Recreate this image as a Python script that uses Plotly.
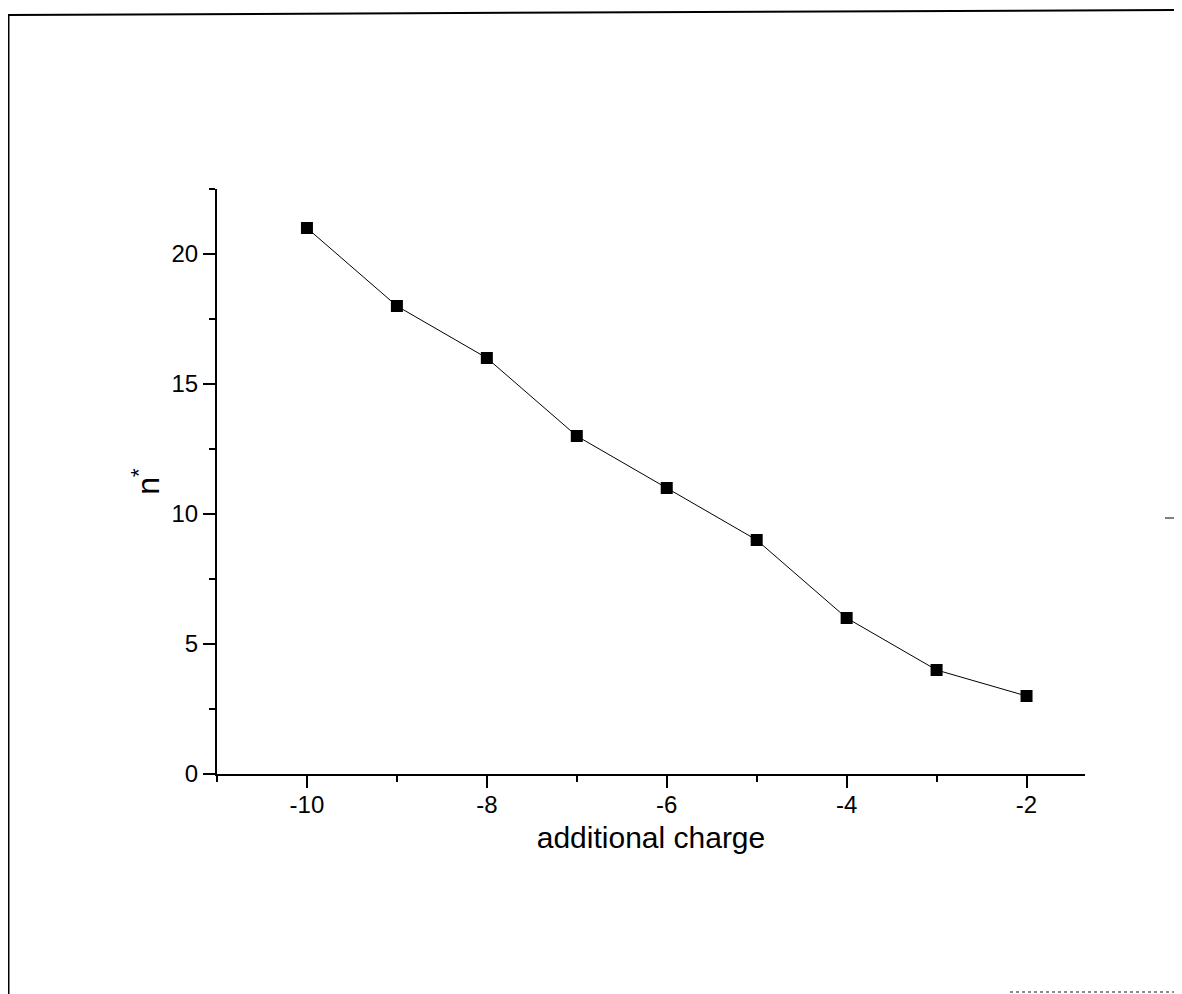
import plotly.graph_objects as go

# Data
charge = [-10, -9, -8, -7, -6, -5, -4, -3, -2]
n_star = [21, 18, 16, 13, 11, 9, 6, 4, 3]

x_ticks = [-10, -8, -6, -4, -2]
y_ticks = [0, 5, 10, 15, 20]

# page body margin in the browser is 8px, so figure coordinates = screen - 8
OFF = 8
W, H = 1182 - OFF, 994 - OFF
L, R, T, B = 217 - OFF, 1085 - OFF, 189 - OFF, 774 - OFF  # plot area bounds


def px(x):
    return (x - OFF - L) / (R - L)


def py(y):
    return (B - (y - OFF)) / (B - T)


fig = go.Figure()
fig.add_trace(go.Scatter(
    x=charge, y=n_star, mode="lines+markers",
    line=dict(color="black", width=1),
    marker=dict(symbol="square", size=12, color="black"),
    showlegend=False,
))

font_family = "Liberation Sans, Arial, sans-serif"

fig.update_layout(
    width=W, height=H, autosize=False,
    margin=dict(l=L, r=W - R, t=T, b=H - B, pad=0),
    paper_bgcolor="white", plot_bgcolor="white",
    font=dict(family=font_family, color="black", size=24),
    xaxis=dict(
        range=[-11.0, -1.35], tickmode="array", tickvals=x_ticks,
        ticktext=[str(v) for v in x_ticks],
        showline=True, linecolor="black", linewidth=2, mirror=False,
        ticks="outside", ticklen=12, tickwidth=2, tickcolor="black",
        minor=dict(ticks="outside", ticklen=6, tickwidth=1.5, tickcolor="black", dtick=1, tick0=-11),
        showgrid=False, zeroline=False,
        tickfont=dict(size=24), ticklabelstandoff=-4,
        title=dict(text="additional charge", font=dict(size=30), standoff=10),
    ),
    yaxis=dict(
        range=[0, 22.5], tickmode="array", tickvals=y_ticks,
        ticktext=[str(v) for v in y_ticks],
        showline=True, linecolor="black", linewidth=2, mirror=False,
        ticks="outside", ticklen=12, tickwidth=2, tickcolor="black",
        minor=dict(ticks="outside", ticklen=6, tickwidth=1.5, tickcolor="black", dtick=2.5, tick0=0),
        showgrid=False, zeroline=False,
        tickfont=dict(size=24),
        title=dict(text="n<sup>*</sup>", font=dict(size=32), standoff=2),
    ),
)

# Scan frame decorations around the page
frame = dict(xref="paper", yref="paper", type="line")
fig.add_shape(**frame, x0=px(8), y0=py(15), x1=px(1182), y1=py(10),
              line=dict(color="black", width=2))
fig.add_shape(**frame, x0=px(8.5), y0=py(15), x1=px(8.5), y1=py(994),
              line=dict(color="black", width=2))
fig.add_shape(**frame, x0=px(1165), y0=py(518), x1=px(1177), y1=py(518),
              line=dict(color="#555555", width=1.5))
fig.add_shape(**frame, x0=px(1010), y0=py(992), x1=px(1182), y1=py(992),
              line=dict(color="#666666", width=1.5, dash="dot"))

fig.write_html("out.html")
